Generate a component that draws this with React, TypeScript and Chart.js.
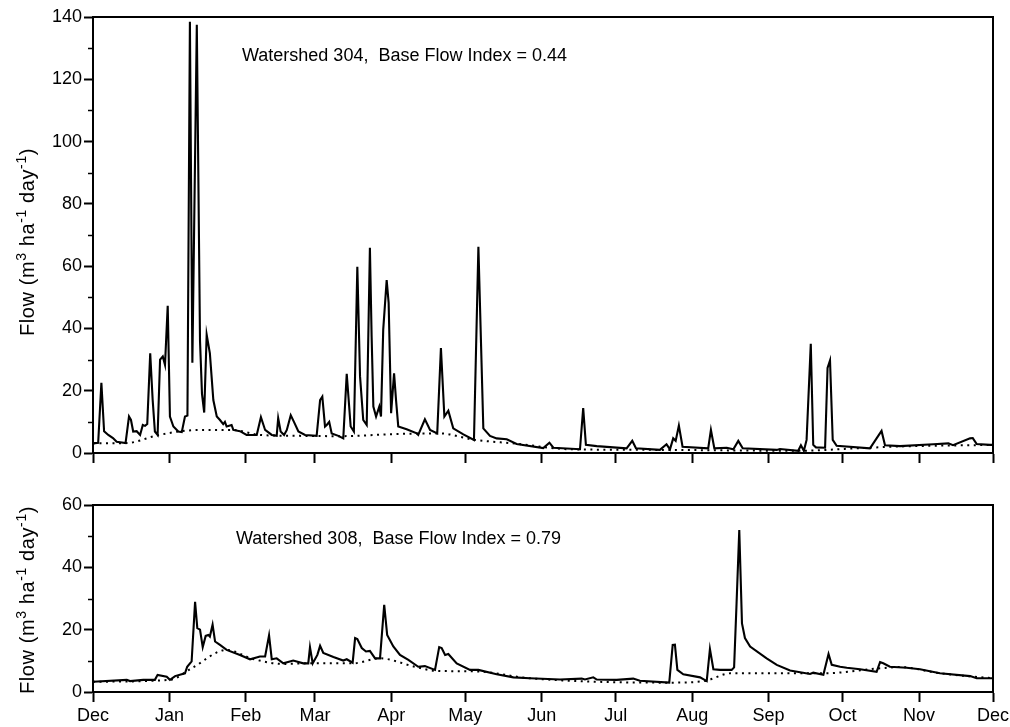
import React, { useEffect, useRef } from "react";
import { Chart, registerables } from "chart.js";

Chart.register(...registerables);

const FONT = "'Liberation Sans', Arial, Helvetica, sans-serif";

// Days since 1 December; month boundaries
const monthTickDays = [0, 31, 62, 90, 121, 151, 182, 212, 243, 274, 304, 335, 365];
const monthLabels = ["Dec", "Jan", "Feb", "Mar", "Apr", "May", "Jun", "Jul", "Aug", "Sep", "Oct", "Nov", "Dec"];

// Watershed 304 streamflow
const ws304Days = [
  0, 2.1, 3.4, 4.5, 6.2, 8.1, 9.6, 13.2, 14.6, 15.4, 16.3, 17.7, 19.1, 20.2, 21.1, 22.0, 23.2, 24.2, 25.1, 26.2,
  27.2, 28.3, 29.2, 30.3, 31.2, 32.6, 34.6, 36.0, 37.3, 38.3, 39.3, 40.3, 42.1, 43.4, 44.2, 45.1, 46.1, 47.4, 48.8, 50.2,
  51.5, 52.8, 53.5, 54.2, 56.2, 56.9, 59.6, 62.3, 66.4, 68.1, 69.8, 72.5, 74.5, 75.1, 76.1, 77.5, 78.6, 80.2, 81.5, 83.3,
  86.0, 90.7, 92.1, 93.0, 94.1, 94.8, 95.8, 96.8, 99.5, 101.5, 102.9, 104.5, 105.8, 107.2, 108.3, 109.6, 111.0, 112.3, 113.0, 113.7,
  114.8, 116.1, 116.8, 117.7, 119.1, 119.9, 120.9, 122.1, 122.9, 123.8, 127.2, 131.3, 131.9, 134.6, 136.7, 139.6, 141.1, 142.5, 144.1, 146.1,
  150.2, 154.5, 156.3, 158.3, 161.0, 163.7, 167.8, 171.8, 182.6, 185.1, 186.7, 197.5, 198.8, 199.9, 204.3, 216.4, 218.7, 220.2, 229.9, 232.6,
  234.0, 235.3, 236.3, 237.6, 239.1, 249.5, 250.6, 252.0, 257.0, 259.7, 261.7, 263.5, 277.3, 278.6, 286.0, 287.1, 288.3, 289.4, 291.1, 292.1,
  293.2, 296.9, 297.9, 298.9, 300.0, 301.6, 315.1, 319.8, 321.2, 327.3, 340.8, 346.9, 348.8, 355.7, 356.8, 358.4, 363.8, 365,
];
const ws304Flow = [
  3.1, 3.3, 22.5, 7.0, 5.8, 4.8, 3.6, 3.2, 11.7, 10.6, 6.9, 7.0, 5.8, 9.0, 8.7, 9.3, 32, 17, 6.9, 5.8,
  30, 31, 28.3, 47.3, 11.7, 8.5, 6.9, 6.7, 11.7, 12, 138.5, 29, 137.5, 36, 19, 13, 38, 32, 17, 11.7,
  10.6, 9.3, 10, 8.5, 9, 7.4, 7.0, 5.8, 5.8, 11.5, 7.4, 5.8, 5.5, 11.2, 6.9, 5.8, 7.4, 12.1, 10, 6.9,
  5.8, 5.5, 17, 18.1, 8.5, 9, 10, 6.3, 5.5, 4.7, 25.4, 8.5, 6.9, 59.8, 24.6, 10.6, 9, 65.9, 37.4, 14.9,
  11.7, 14.9, 11.7, 39.6, 55.5, 48.2, 12.8, 25.6, 17, 8.5, 7.6, 6.3, 5.8, 10.8, 7.4, 6.3, 33.7, 11.7, 13.6, 7.9,
  6.0, 4.2, 66.2, 7.9, 5.5, 4.7, 4.4, 2.9, 1.6, 3.3, 1.7, 1.2, 14.4, 2.6, 2.2, 1.5, 3.9, 1.5, 1.0, 2.8,
  1.2, 4.7, 3.9, 8.8, 2.0, 1.5, 7.4, 1.5, 1.7, 1.2, 3.9, 1.5, 1.0, 1.3, 0.7, 2.5, 0.7, 4.2, 35.1, 2.6,
  1.8, 1.7, 27.3, 29.7, 4.2, 2.3, 1.5, 7.1, 2.5, 2.2, 2.8, 3.1, 2.5, 4.7, 4.8, 2.9, 2.6, 2.6,
];
// Watershed 304 base flow (separated)
const ws304BaseDays = [0, 13.7, 25.8, 33.9, 43.4, 56.7, 67.7, 83.9, 100.2, 123.2, 140.7, 154.2, 171.8, 193.4, 229.9, 286.7, 307.0, 327.3, 365];
const ws304Base = [3.1, 3.2, 5.6, 6.8, 7.4, 7.4, 5.8, 5.5, 5.4, 6.1, 6.3, 4.3, 3.0, 1.2, 1.0, 0.7, 1.4, 2.1, 2.6];

// Watershed 308 streamflow
const ws308Days = [
  0, 13.7, 15.0, 20.4, 25.1, 26.2, 29.9, 31.2, 33.3, 37.3, 38.2, 40.0, 41.4, 42.3, 43.4, 44.5, 45.7, 46.8, 47.4, 48.5,
  49.5, 51.5, 54.2, 59.6, 63.7, 67.7, 69.8, 71.4, 72.5, 74.5, 77.2, 81.2, 85.3, 87.3, 88.0, 89.1, 91.0, 92.1, 93.4, 97.5,
  101.5, 102.9, 105.3, 106.3, 107.2, 109.0, 110.7, 112.3, 114.4, 116.4, 118.1, 119.3, 121.8, 124.5, 127.9, 131.9, 134.6, 138.7, 140.4, 141.4,
  142.8, 144.1, 147.5, 152.9, 156.3, 163.7, 170.5, 177.2, 189.4, 198.2, 199.5, 202.9, 204.3, 212.4, 219.1, 221.8, 233.7, 235.1, 236.0, 237.0,
  239.4, 246.2, 248.9, 250.2, 251.6, 254.3, 259.0, 260.0, 261.0, 262.1, 263.2, 264.4, 266.5, 273.2, 277.3, 282.7, 290.8, 292.1, 296.2, 298.3,
  299.6, 303.0, 305.7, 311.1, 317.8, 319.2, 320.5, 323.2, 330.0, 335.4, 343.5, 355.7, 358.4, 365,
];
const ws308Flow = [
  3.3, 3.9, 3.5, 3.9, 3.9, 5.5, 4.9, 3.9, 5.1, 6.0, 8.1, 9.8, 28.9, 20.5, 20, 14.4, 18, 18.3, 17.8, 21.6,
  16.2, 15.1, 13.5, 11.9, 10.5, 11.4, 11.4, 18.2, 10.5, 10.8, 9.2, 10.1, 9.2, 9.2, 14.4, 9.2, 11.9, 14.8, 12.5, 11.2,
  10.1, 10.5, 9.4, 17.3, 17, 14.1, 13, 13.2, 10.8, 10.8, 28, 18.3, 14.6, 11.9, 10.3, 8.1, 8.3, 7.1, 14.4, 14.1,
  11.9, 12.2, 9.2, 7.1, 7.1, 5.7, 4.7, 4.4, 4.0, 4.3, 4.0, 4.7, 4.0, 3.9, 4.3, 3.6, 3.0, 15.1, 15.2, 7.1,
  5.7, 4.7, 3.5, 13.8, 7.3, 7.1, 7.1, 7.9, 28.5, 52, 22, 17.3, 14.6, 10.8, 8.7, 6.9, 5.8, 6.2, 5.5, 12.2,
  8.7, 8.1, 7.8, 7.3, 6.5, 9.6, 9.2, 8.1, 7.8, 7.3, 6.0, 5.1, 4.4, 4.4,
];
// Watershed 308 base flow (separated)
const ws308BaseDays = [0, 31.2, 40.0, 54.2, 64.9, 77.2, 88.0, 105.3, 116.4, 130.5, 139.1, 155.4, 177.2, 233.7, 247.8, 258.6, 296.2, 319.2, 327.3, 343.5, 365];
const ws308Base = [3.3, 3.9, 7.6, 13.5, 10.6, 9.0, 9.2, 9.2, 10.8, 8.1, 6.8, 6.6, 4.4, 3.0, 3.5, 6.0, 6.0, 7.6, 8.0, 6.0, 4.4];

const panel304Note = "Watershed 304,  Base Flow Index = 0.44";
const panel308Note = "Watershed 308,  Base Flow Index = 0.79";

type PanelOpts = {
  days: number[];
  flow: number[];
  baseDays: number[];
  base: number[];
  yMax: number;
  note: string;
  showX: boolean;
  padTop: number;
  xHeight: number;
  noteDx: number;
  noteDy: number;
  titleCy: number;
};

function drawYTitle(ctx: CanvasRenderingContext2D, cx: number, cy: number, size: number) {
  const segs: [string, boolean][] = [
    ["Flow (m", false],
    ["3", true],
    [" ha", false],
    ["-1", true],
    [" day", false],
    ["-1", true],
    [")", false],
  ];
  const big = `${size}px ${FONT}`;
  const small = `${Math.round(size * 0.72)}px ${FONT}`;
  ctx.save();
  (ctx as any).letterSpacing = "0.6px";
  let total = 0;
  const widths = segs.map(([t, sup]) => {
    ctx.font = sup ? small : big;
    const w = ctx.measureText(t).width;
    total += w;
    return w;
  });
  ctx.translate(cx, cy);
  ctx.rotate(-Math.PI / 2);
  ctx.fillStyle = "#000";
  ctx.textBaseline = "alphabetic";
  ctx.textAlign = "left";
  let x = -total / 2;
  segs.forEach(([t, sup], i) => {
    ctx.font = sup ? small : big;
    ctx.fillText(t, x, sup ? -size * 0.42 : 0);
    x += widths[i];
  });
  ctx.restore();
}

function panelConfig(p: PanelOpts): any {
  const decor = {
    id: "decor",
    afterDraw(chart: any) {
      const { ctx, chartArea } = chart;
      const yScale = chart.scales.y;
      ctx.save();
      ctx.strokeStyle = "#000";
      ctx.lineWidth = 2;
      ctx.beginPath();
      ctx.moveTo(chartArea.left - 1, chartArea.top);
      ctx.lineTo(chartArea.right, chartArea.top);
      ctx.lineTo(chartArea.right, chartArea.bottom + 1);
      ctx.stroke();
      ctx.lineWidth = 1.5;
      for (let v = 10; v < p.yMax; v += 20) {
        const y = Math.round(yScale.getPixelForValue(v)) + 0.5;
        ctx.beginPath();
        ctx.moveTo(chartArea.left - 5, y);
        ctx.lineTo(chartArea.left, y);
        ctx.stroke();
      }
      ctx.fillStyle = "#000";
      ctx.font = `18px ${FONT}`;
      ctx.textAlign = "left";
      ctx.textBaseline = "middle";
      ctx.fillText(p.note, chartArea.left + p.noteDx, chartArea.top + p.noteDy);
      ctx.restore();
      drawYTitle(ctx, 34, p.titleCy, 20);
    },
  };

  return {
    type: "line",
    data: {
      datasets: [
        {
          data: p.days.map((d, i) => ({ x: d, y: p.flow[i] })),
          borderColor: "#000",
          borderWidth: 2.1,
          pointRadius: 0,
          tension: 0,
          fill: false,
          borderJoinStyle: "miter",
        },
        {
          data: p.baseDays.map((d, i) => ({ x: d, y: p.base[i] })),
          borderColor: "#000",
          borderWidth: 2,
          borderDash: [2, 4.5],
          pointRadius: 0,
          cubicInterpolationMode: "monotone",
          fill: false,
        },
      ],
    },
    options: {
      responsive: false,
      animation: false,
      events: [],
      layout: { padding: { left: 0, right: 17, top: p.padTop, bottom: 0 } },
      plugins: { legend: { display: false }, tooltip: { enabled: false }, title: { display: false } },
      scales: {
        x: {
          type: "linear",
          min: 0,
          max: 365,
          afterBuildTicks: (s: any) => {
            s.ticks = monthTickDays.map((v) => ({ value: v }));
          },
          afterFit: (s: any) => {
            s.height = p.xHeight;
            s.paddingLeft = 0;
            s.paddingRight = 0;
          },
          ticks: {
            display: p.showX,
            autoSkip: false,
            maxRotation: 0,
            padding: 3,
            color: "#000",
            font: { family: FONT, size: 18 },
            callback: (_v: any, i: number) => monthLabels[i],
          },
          grid: { drawOnChartArea: false, drawTicks: true, tickLength: 10, tickWidth: 2, color: "#000" },
          border: { display: true, width: 2, color: "#000" },
        },
        y: {
          min: 0,
          max: p.yMax,
          afterFit: (s: any) => {
            s.width = 93;
            s.paddingTop = 0;
            s.paddingBottom = 0;
          },
          ticks: { stepSize: 20, padding: 2, color: "#000", font: { family: FONT, size: 18 } },
          grid: { drawOnChartArea: false, drawTicks: true, tickLength: 9, tickWidth: 2, color: "#000" },
          border: { display: true, width: 2, color: "#000" },
        },
      },
    },
    plugins: [decor],
  };
}

export default function App() {
  const topRef = useRef<HTMLCanvasElement | null>(null);
  const botRef = useRef<HTMLCanvasElement | null>(null);

  useEffect(() => {
    const c1 = new Chart(
      topRef.current as HTMLCanvasElement,
      panelConfig({
        days: ws304Days,
        flow: ws304Flow,
        baseDays: ws304BaseDays,
        base: ws304Base,
        yMax: 140,
        note: panel304Note,
        showX: false,
        padTop: 17,
        xHeight: 22,
        noteDx: 149,
        noteDy: 39,
        titleCy: 242,
      })
    );
    const c2 = new Chart(
      botRef.current as HTMLCanvasElement,
      panelConfig({
        days: ws308Days,
        flow: ws308Flow,
        baseDays: ws308BaseDays,
        base: ws308Base,
        yMax: 60,
        note: panel308Note,
        showX: true,
        padTop: 30,
        xHeight: 35,
        noteDx: 143,
        noteDy: 34,
        titleCy: 125,
      })
    );
    return () => {
      c1.destroy();
      c2.destroy();
    };
  }, []);

  return (
    <div style={{ position: "absolute", left: 0, top: 0, width: 1010, height: 727, background: "#fff" }}>
      <canvas ref={topRef} width={1010} height={475} style={{ position: "absolute", left: 0, top: 0, display: "block" }} />
      <canvas ref={botRef} width={1010} height={252} style={{ position: "absolute", left: 0, top: 475, display: "block" }} />
    </div>
  );
}
